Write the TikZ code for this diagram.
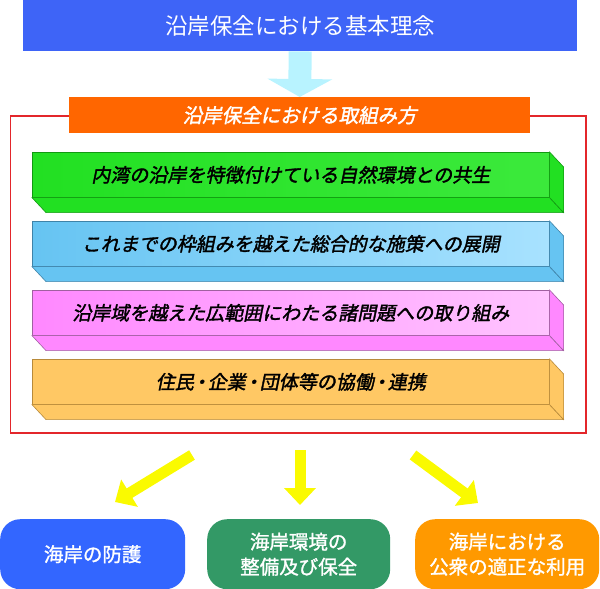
\documentclass[tikz,border=0pt]{standalone}
\usepackage{fontspec}
\newfontfamily\jp{Noto Sans CJK JP}
\newfontfamily\jpit[FakeSlant=0.2,FakeBold=1.8]{Noto Sans CJK JP}
\newfontfamily\jpb[FakeBold=1.3]{Noto Sans CJK JP}
\usetikzlibrary{arrows.meta,calc}
\definecolor{tblue}{HTML}{3E64F7}
\definecolor{horange}{HTML}{FF6600}
\definecolor{framered}{HTML}{E3262B}
\definecolor{arrcyan}{HTML}{B8F3FF}
\definecolor{arryel}{HTML}{FAFA00}
\definecolor{bblue}{HTML}{3366FF}
\definecolor{bgreen}{HTML}{339966}
\definecolor{borange}{HTML}{FF9900}
\definecolor{gA}{HTML}{22E022}\definecolor{gB}{HTML}{77FF77}\definecolor{gD}{HTML}{119911}
\definecolor{cA}{HTML}{66C4F2}\definecolor{cB}{HTML}{A8E2FF}\definecolor{cD}{HTML}{3F83A8}
\definecolor{pA}{HTML}{FF88FF}\definecolor{pB}{HTML}{FFC4FF}\definecolor{pD}{HTML}{A060A0}
\definecolor{oA}{HTML}{FFC864}\definecolor{oB}{HTML}{FFE6B0}\definecolor{oD}{HTML}{B88A3A}
\newcommand\barsides[3]{%
  \path[draw=#3,line width=0.6pt,left color=#2,middle color=white!50!#2,right color=#2]
    (#1.south west) -- ++(14,15) -- ($(#1.south east)+(14,15)$) -- (#1.south east) -- cycle;
  \path[draw=#3,line width=0.6pt,left color=#2,middle color=white!60!#2,right color=#2]
    (#1.north east) -- ++(14,15) -- ($(#1.south east)+(14,15)$) -- (#1.south east) -- cycle;
}
\newcommand\ndot{\kern-2.5pt・\kern-2.5pt}
\begin{document}
\begin{tikzpicture}[x=1pt,y=-1pt,
  titlebox/.style={fill=tblue,text=white,minimum width=554pt,minimum height=51pt,inner sep=0pt,
    anchor=north west,font=\jp\fontsize{22.5}{26}\selectfont},
  hdrbox/.style={fill=horange,text=white,minimum width=461pt,minimum height=36pt,inner sep=0pt,
    anchor=north west,font=\jpit\fontsize{19.5}{23}\selectfont},
  barface/.style={draw=#1,line width=0.6pt,minimum width=517pt,minimum height=45pt,inner sep=0pt,
    anchor=north west,font=\jpit\fontsize{19}{22}\selectfont},
  botbox/.style={fill=#1,rounded corners=20pt,text=white,minimum width=183pt,minimum height=70pt,
    inner sep=0pt,anchor=north west,align=center,font=\jpb\fontsize{19.5}{25}\selectfont},
  cyanarrow/.style={draw=arrcyan,line width=23pt,-{Triangle[width=64pt,length=18pt]}},
  yelarrow/.style={draw=arryel,line width=11pt,-{Triangle[width=31pt,length=17pt]}},
  frame/.style={draw=framered,line width=1.5pt}
]
\useasboundingbox (0,0) rectangle (600,589);
% frame
\node[frame,minimum width=575.5pt,minimum height=317pt,inner sep=0pt,anchor=north west] (fr) at (9.5,115) {};
% title and header
\node[titlebox] (t) at (23,0) {沿岸保全における基本理念};
\node[hdrbox] (h) at (69,97) {沿岸保全における取組み方};
\draw[cyanarrow] (t.south) -- (h.north);
% bars
\node[barface=gD,left color=gA,middle color=gB,right color=gA!70!gB] (b1) at (32,152) {内湾の沿岸を特徴付けている自然環境との共生};
\barsides{b1}{gA}{gD}
\node[barface=cD,left color=cA,middle color=cB!60!cA,right color=cB] (b2) at (32,221) {これまでの枠組みを越えた総合的な施策への展開};
\barsides{b2}{cA}{cD}
\node[barface=pD,left color=pA,middle color=pB!70!pA,right color=pB] (b3) at (32,290) {沿岸域を越えた広範囲にわたる諸問題への取り組み};
\barsides{b3}{pA}{pD}
\node[barface=oD,left color=oA,middle color=oB,right color=oA] (b4) at (32,359) {住民\ndot 企業\ndot 団体等の協働\ndot 連携};
\barsides{b4}{oA}{oD}
% bottom boxes
\node[botbox=bblue,minimum width=185pt] (r1) at (0,519) {海岸の防護};
\node[botbox=bgreen] (r2) at (207,519) {海岸環境の\\整備及び保全};
\node[botbox=borange,minimum width=184pt] (r3) at (415,519) {海岸における\\公衆の適正な利用};
% yellow arrows
\coordinate (a1s) at (192,455); \coordinate (a1e) at (115,502);
\coordinate (a2s) at (300,450); \coordinate (a2e) at (300,505);
\coordinate (a3s) at (413,455); \coordinate (a3e) at (478,503);
\draw[yelarrow] (a1s) -- (a1e);
\draw[yelarrow] (a2s) -- (a2e);
\draw[yelarrow] (a3s) -- (a3e);
\end{tikzpicture}
\end{document}
